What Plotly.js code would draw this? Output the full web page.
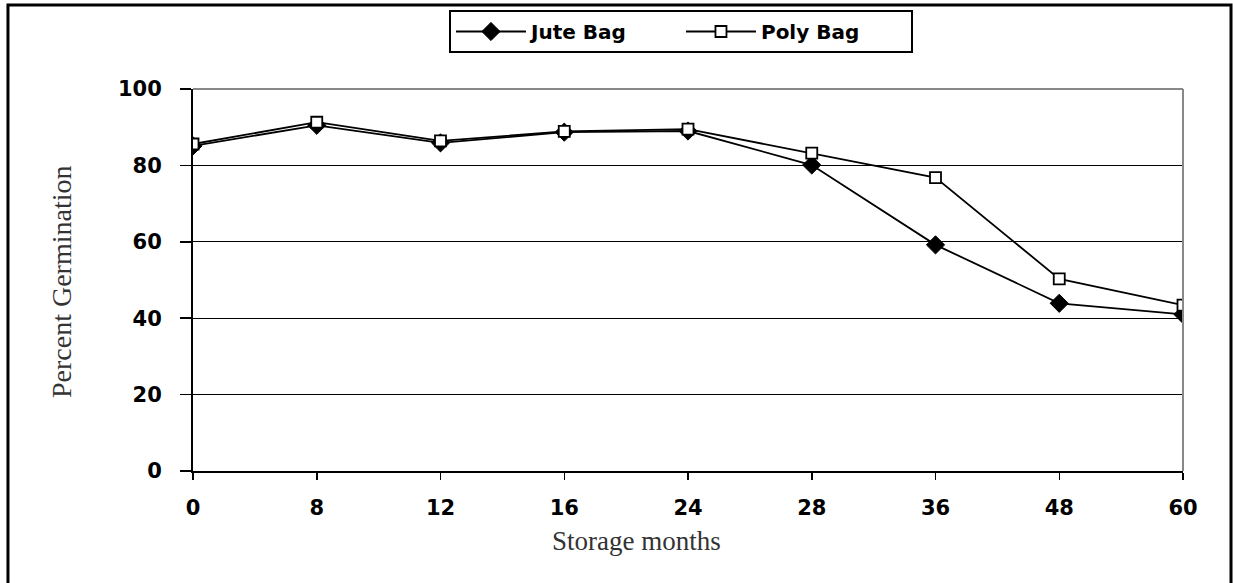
<!DOCTYPE html>
<html>
<head>
<meta charset="utf-8">
<script src="https://cdn.plot.ly/plotly-3.0.1.min.js"></script>
<style>html,body{margin:0;padding:0;background:#fff;}#chart{width:1233px;height:583px;}</style>
</head>
<body>
<div id="chart"></div>
<script>
const months = ['0', '8', '12', '16', '24', '28', '36', '48', '60'];
const juteBag = [85.1, 90.5, 85.9, 88.7, 89.0, 80.1, 59.2, 43.9, 41.0];
const polyBag = [85.6, 91.3, 86.4, 88.9, 89.5, 83.2, 76.8, 50.3, 43.4];
const yTicks = [0, 20, 40, 60, 80, 100];

const traces = [
  {
    x: months, y: juteBag, name: 'Jute Bag', type: 'scatter', mode: 'lines+markers',
    line: {color: '#000', width: 1.8},
    marker: {symbol: 'diamond', size: 14, color: '#000', line: {color: '#000', width: 1}}
  },
  {
    x: months, y: polyBag, name: 'Poly Bag', type: 'scatter', mode: 'lines+markers',
    line: {color: '#000', width: 1.8},
    marker: {symbol: 'square', size: 11, color: '#fff', line: {color: '#000', width: 1.8}}
  }
];

const tickFont = {family: 'DejaVu Sans, sans-serif', size: 21, color: '#000', weight: 'bold'};
const titleFont = {family: 'Liberation Serif, serif', size: 27, color: '#333'};

const layout = {
  width: 1233, height: 583,
  margin: {l: 193, r: 50, t: 89, b: 112, autoexpand: false},
  paper_bgcolor: '#fff', plot_bgcolor: '#fff',
  showlegend: true,
  legend: {
    orientation: 'h', x: 0.4929, xanchor: 'center', y: 1.2068, yanchor: 'top',
    bordercolor: '#000', borderwidth: 2, bgcolor: '#fff',
    font: {family: 'DejaVu Sans, sans-serif', size: 20, color: '#000', weight: 'bold'},
    itemwidth: 70, entrywidth: 145, traceorder: 'normal'
  },
  xaxis: {
    type: 'category', categoryorder: 'array', categoryarray: months,
    range: [0, months.length - 1],
    showline: true, linecolor: '#000', linewidth: 2,
    ticks: 'outside', ticklen: 7, tickwidth: 1.5, tickcolor: '#000',
    showgrid: false, zeroline: false,
    tickfont: tickFont, ticklabelstandoff: 10
  },
  yaxis: {
    range: [0, 100], tickvals: yTicks,
    showline: true, linecolor: '#000', linewidth: 2,
    ticks: 'outside', ticklen: 11, tickwidth: 1.5, tickcolor: '#000',
    showgrid: true, gridcolor: '#000', gridwidth: 1.2,
    zeroline: false,
    tickfont: tickFont, ticklabelstandoff: 14
  },
  shapes: [
    {type: 'line', xref: 'paper', yref: 'paper', x0: 0, x1: 1, y0: 1, y1: 1, line: {color: '#888', width: 2}},
    {type: 'line', xref: 'paper', yref: 'paper', x0: 1, x1: 1, y0: 0, y1: 1, line: {color: '#888', width: 2}},
    {type: 'rect', xref: 'paper', yref: 'paper', x0: -0.1869, x1: 1.0485, y0: -0.35, y1: 1.2199, line: {color: '#000', width: 3}, layer: 'below'}
  ],
  annotations: [
    {text: 'Storage months', xref: 'paper', yref: 'paper', x: 0.4475, y: -0.183, showarrow: false, font: titleFont, xanchor: 'center', yanchor: 'middle'},
    {text: 'Percent Germination', xref: 'paper', yref: 'paper', x: -0.1323, y: 0.4948, showarrow: false, textangle: -90, font: {family: 'Liberation Serif, serif', size: 28, color: '#333'}, xanchor: 'center', yanchor: 'middle'}
  ]
};

Plotly.newPlot('chart', traces, layout, {displayModeBar: false, staticPlot: true});
</script>
</body>
</html>
